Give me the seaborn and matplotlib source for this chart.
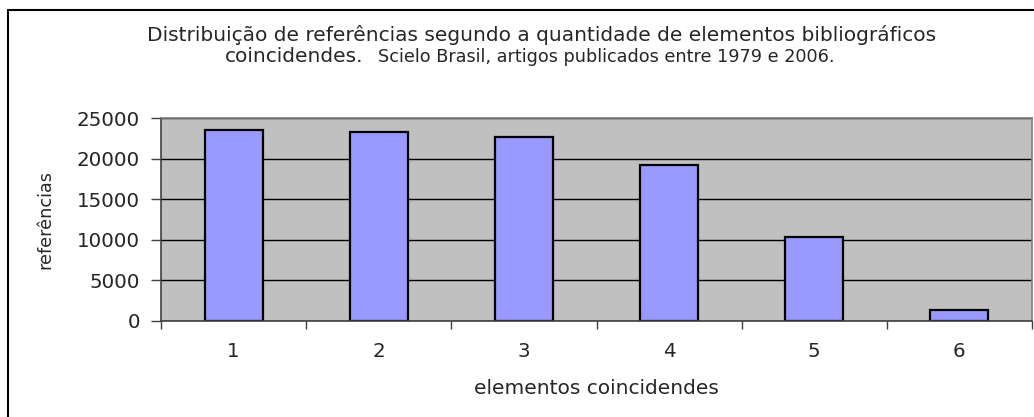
import matplotlib
matplotlib.use("Agg")
import matplotlib.pyplot as plt
import seaborn as sns
from matplotlib.lines import Line2D

categorias = ["1", "2", "3", "4", "5", "6"]
referencias = [23500, 23300, 22700, 19250, 10300, 1300]
yticks = [0, 5000, 10000, 15000, 20000, 25000]

sns.set_style("white")
plt.rcParams["font.family"] = ["DejaVu Sans"]

fig = plt.figure(figsize=(10.34, 4.17), dpi=100)
ax = fig.add_axes([161 / 1034, 1 - 321 / 417, 871 / 1034, 203 / 417])
ax.set_facecolor("#C0C0C0")

sns.barplot(x=categorias, y=referencias, color="#9999FF", saturation=1,
            width=0.4, edgecolor="black", linewidth=1.6, ax=ax)

ax.set_xlim(-0.5, 5.5)
ax.set_ylim(0, 25000)
ax.set_yticks(yticks)
ax.set_yticklabels([str(v) for v in yticks], fontsize=14.3)
ax.yaxis.grid(True, color="black", linewidth=1)
ax.set_axisbelow(True)
ax.tick_params(axis="y", length=7, width=1, color="#404040", pad=8, left=True)
ax.tick_params(axis="x", which="major", length=0, pad=15, labelsize=14.3)
ax.set_xticks([i + 0.5 for i in range(-1, 6)], minor=True)
ax.tick_params(axis="x", which="minor", length=6, width=1, color="#404040", bottom=True)

for s in ax.spines.values():
    s.set_color("#808080")
    s.set_linewidth(1.2)
ax.spines["left"].set_color("#404040")
ax.spines["bottom"].set_color("#404040")

ax.set_xlabel("elementos coincidendes", fontsize=14.5, labelpad=13)
ax.set_ylabel("referências", fontsize=12.7, labelpad=16)

# titulo em duas linhas, segunda parte menor
fig.text(542 / 1034, 1 - 35 / 417, "Distribuição de referências segundo a quantidade de elementos bibliográficos",
         ha="center", va="center", fontsize=14.5)
fig.text(225 / 1034, 1 - 57 / 417, "coincidendes.", ha="left", va="center", fontsize=14.5)
fig.text(378 / 1034, 1 - 57 / 417, "Scielo Brasil, artigos publicados entre 1979 e 2006.",
         ha="left", va="center", fontsize=12.7)

# moldura externa do grafico
fig.add_artist(Line2D([8 / 1034, 8 / 1034], [0, 1 - 10 / 417], color="black", linewidth=1.5,
                      transform=fig.transFigure))
fig.add_artist(Line2D([8 / 1034, 1], [1 - 10 / 417, 1 - 10 / 417], color="black", linewidth=1.5,
                      transform=fig.transFigure))

plt.savefig("out.png", dpi=100)
